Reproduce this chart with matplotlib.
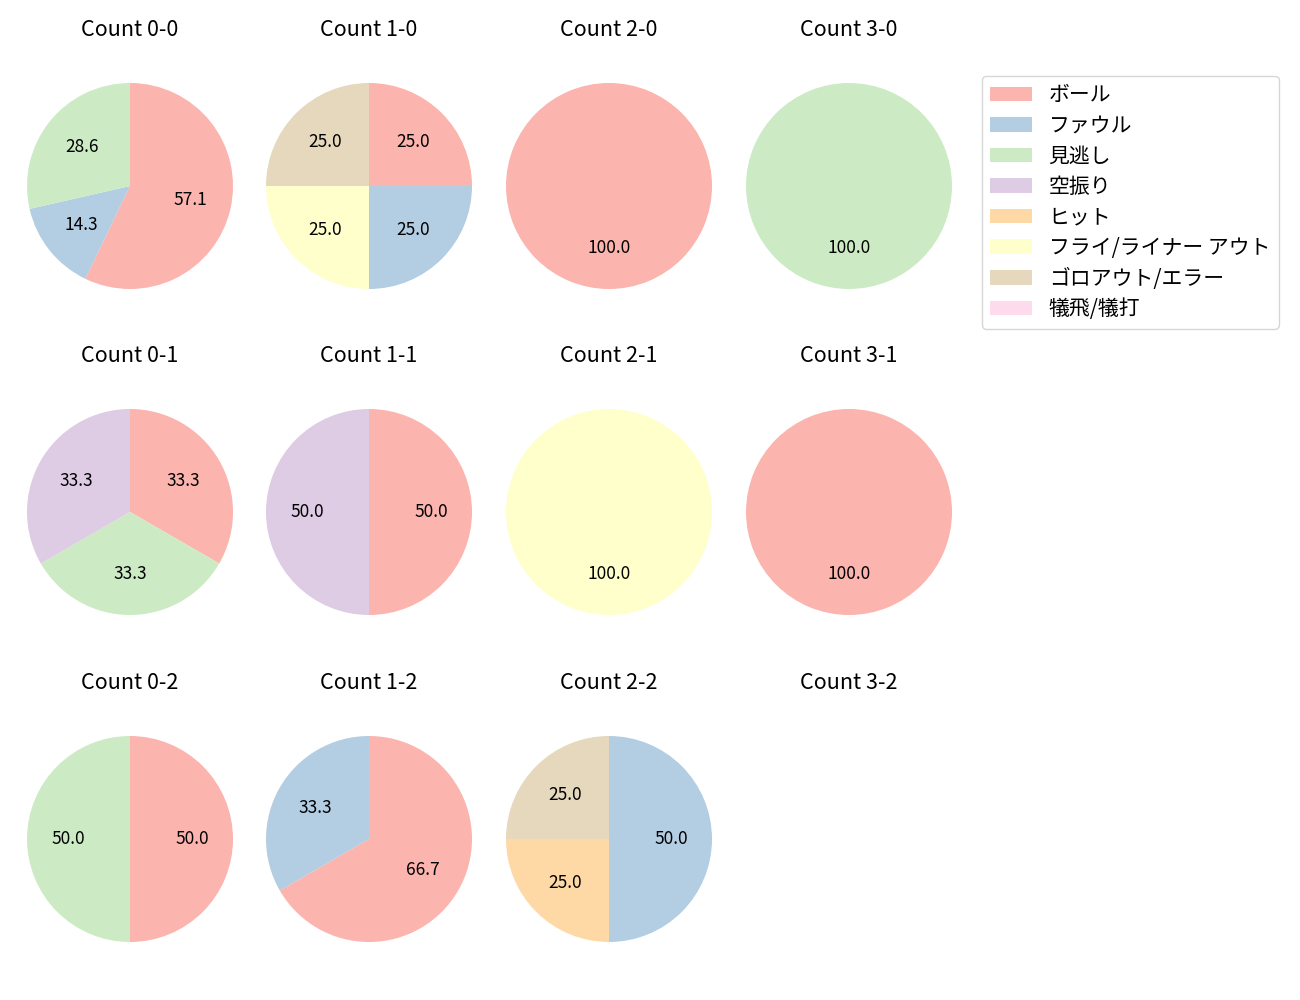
import matplotlib
matplotlib.use("Agg")
import matplotlib.pyplot as plt
from matplotlib.patches import Patch

plt.rcParams['font.family'] = ['Noto Sans CJK JP', 'DejaVu Sans']

# ── データ ──
pitch_types = ["ボール", "ファウル", "見逃し", "空振り", "ヒット",
               "フライ/ライナー アウト", "ゴロアウト/エラー", "犠飛/犠打"]
colors = ["#fbb4ae", "#b3cde3", "#ccebc5", "#decbe4",
          "#fed9a6", "#ffffcc", "#e5d8bd", "#fddaec"]

balls = [0, 1, 2, 3]
strikes = [0, 1, 2]

# 各カウントの件数（pitch_types の順）
c_0_0 = [4, 1, 2, 0, 0, 0, 0, 0]
c_1_0 = [1, 1, 0, 0, 0, 1, 1, 0]
c_2_0 = [1, 0, 0, 0, 0, 0, 0, 0]
c_3_0 = [0, 0, 1, 0, 0, 0, 0, 0]
c_0_1 = [1, 0, 1, 1, 0, 0, 0, 0]
c_1_1 = [1, 0, 0, 1, 0, 0, 0, 0]
c_2_1 = [0, 0, 0, 0, 0, 1, 0, 0]
c_3_1 = [1, 0, 0, 0, 0, 0, 0, 0]
c_0_2 = [1, 0, 1, 0, 0, 0, 0, 0]
c_1_2 = [2, 1, 0, 0, 0, 0, 0, 0]
c_2_2 = [0, 2, 0, 0, 1, 0, 1, 0]
c_3_2 = [0, 0, 0, 0, 0, 0, 0, 0]

counts = {
    (0, 0): c_0_0, (1, 0): c_1_0, (2, 0): c_2_0, (3, 0): c_3_0,
    (0, 1): c_0_1, (1, 1): c_1_1, (2, 1): c_2_1, (3, 1): c_3_1,
    (0, 2): c_0_2, (1, 2): c_1_2, (2, 2): c_2_2, (3, 2): c_3_2,
}

W, H = 1300, 1000
fig = plt.figure(figsize=(13, 10), dpi=100)

radius_px = 103
size_px = radius_px * 2.5
col_x = [130, 369, 609, 849]
row_y = [186, 512, 839]

for s in strikes:
    for b in balls:
        cx, cy = col_x[b], row_y[s]
        ax = fig.add_axes([(cx - size_px / 2) / W, 1 - (cy + size_px / 2) / H,
                           size_px / W, size_px / H])
        vals = counts[(b, s)]
        data = [(v, colors[i]) for i, v in enumerate(vals) if v > 0]
        if data:
            ax.pie([d[0] for d in data], colors=[d[1] for d in data],
                   startangle=90, counterclock=False, autopct="%.1f",
                   textprops={"fontsize": 12.5})
        else:
            ax.set_xlim(-1.25, 1.25)
            ax.set_ylim(-1.25, 1.25)
        ax.set_aspect("equal")
        ax.axis("off")
        ax.set_title(f"Count {b}-{s}", fontsize=15.5, pad=15)

handles = [Patch(facecolor=c, label=l) for c, l in zip(colors, pitch_types)]
fig.legend(handles=handles, loc="upper left",
           bbox_to_anchor=(982 / W, 1 - 76 / H), fontsize=15,
           labelspacing=0.41, borderaxespad=0)

plt.savefig("out.png", dpi=100)
